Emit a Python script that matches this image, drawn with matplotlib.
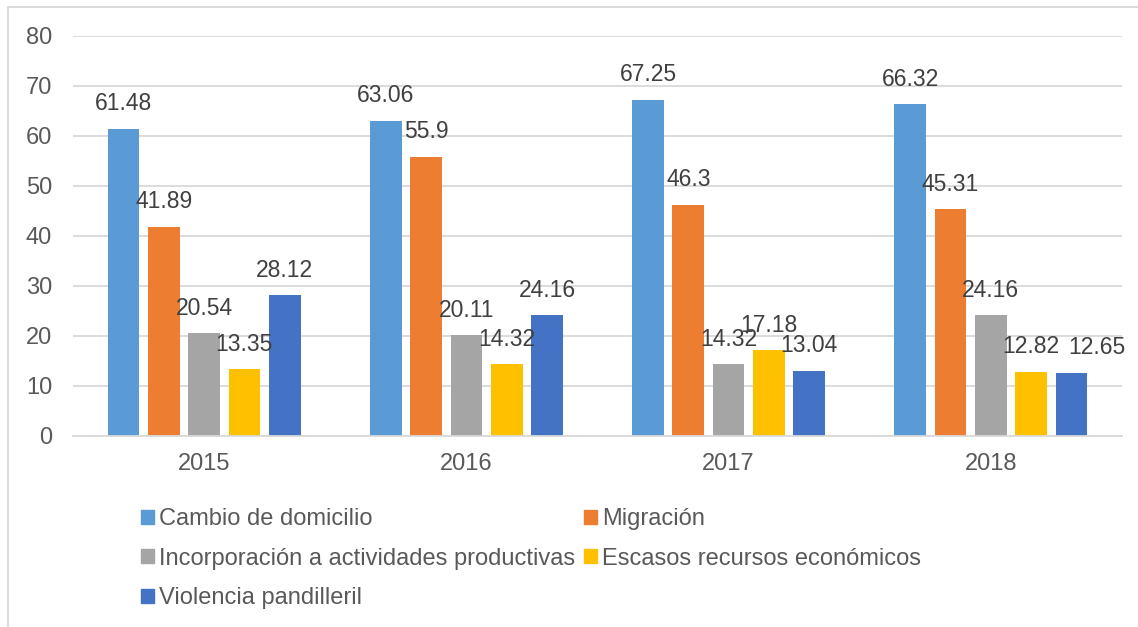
import matplotlib
matplotlib.use('Agg')
import matplotlib.pyplot as plt
from matplotlib.patches import Patch
from matplotlib.lines import Line2D
import numpy as np

years = ['2015', '2016', '2017', '2018']
series_names = ['Cambio de domicilio', 'Migración',
                'Incorporación a actividades productivas',
                'Escasos recursos económicos', 'Violencia pandilleril']
cambio = [61.48, 63.06, 67.25, 66.32]
migracion = [41.89, 55.9, 46.3, 45.31]
incorporacion = [20.54, 20.11, 14.32, 24.16]
escasos = [13.35, 14.32, 17.18, 12.82]
violencia = [28.12, 24.16, 13.04, 12.65]
colors = ['#5B9BD5', '#ED7D31', '#A5A5A5', '#FFC000', '#4472C4']

plt.rcParams['font.family'] = ['Liberation Sans', 'DejaVu Sans']

W, H = 1138, 627
fig = plt.figure(figsize=(W / 100, H / 100), dpi=100)
ax = fig.add_axes([73 / W, 1 - 436 / H, (1122 - 73) / W, (436 - 36) / H])

x = np.arange(len(years))
width = 0.121
step = 0.1537
all_series = [cambio, migracion, incorporacion, escasos, violencia]
# (series, year) -> horizontal nudge in points, like Excel does to avoid collisions
nudge = {(4, 3): 18.5}
handles = []
for i, vals in enumerate(all_series):
    pos = x + (i - 2) * step
    ax.bar(pos, vals, width, color=colors[i], zorder=2)
    handles.append(Patch(color=colors[i], label=series_names[i]))
    for j, (p, v) in enumerate(zip(pos, vals)):
        dx = nudge.get((i, j), 0)
        ax.annotate(f'{v:g}', (p, v), xytext=(dx, 18), textcoords='offset points',
                    ha='center', va='center', fontsize=16.5, color='#404040', zorder=3)

ax.set_xlim(-0.5, len(years) - 0.5)
ax.set_ylim(0, 80)
ax.set_yticks(range(0, 81, 10))
ax.set_xticks(x)
ax.set_xticklabels(years)
ax.yaxis.grid(True, color='#D9D9D9', linewidth=1.3, zorder=0)
ax.set_axisbelow(True)
for s in ['top', 'right', 'left']:
    ax.spines[s].set_visible(False)
ax.spines['bottom'].set_color('#D9D9D9')
ax.spines['bottom'].set_linewidth(1.3)
ax.tick_params(axis='both', length=0, labelsize=17, labelcolor='#595959')
ax.tick_params(axis='y', pad=15)
ax.tick_params(axis='x', pad=12)

# legend, filled column by column
order = [0, 2, 4, 1, 3]
fig.legend([handles[i] for i in order], [series_names[i] for i in order],
           ncol=2, loc='upper left', bbox_to_anchor=(141 / W, 1 - 508 / H),
           frameon=False, fontsize=17, labelcolor='#595959',
           handlelength=0.55, handleheight=0.55, handletextpad=0.2,
           columnspacing=0.4, labelspacing=0.75, borderpad=0, borderaxespad=0)

# chart border (left and top edges visible)
fig.add_artist(Line2D([8 / W, 8 / W], [0, 1 - 7 / H], transform=fig.transFigure,
                      color='#D9D9D9', linewidth=1.3))
fig.add_artist(Line2D([8 / W, 1], [1 - 7 / H, 1 - 7 / H], transform=fig.transFigure,
                      color='#D9D9D9', linewidth=1.3))

plt.savefig('out.png', dpi=100)
